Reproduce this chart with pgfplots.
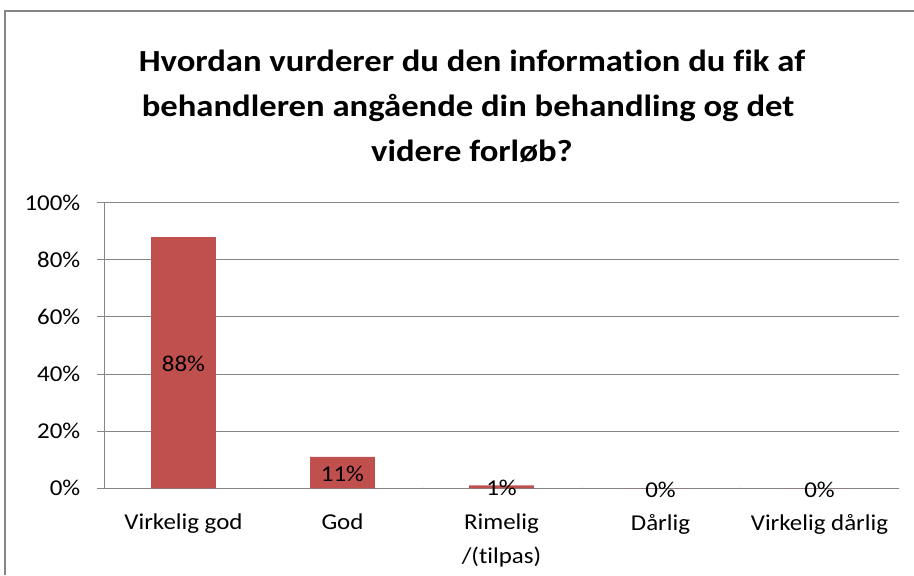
\documentclass[border=0pt]{standalone}
\usepackage{fontspec}
\setmainfont{Carlito}[FakeStretch=1.1,Ligatures=NoCommon]
\newfontfamily\titlefont{Carlito}[FakeStretch=1.13,Ligatures=NoCommon]
\usepackage{pgfplots}
\usepackage{pgfplotstable}
\pgfplotsset{compat=1.18}
\definecolor{BarRed}{HTML}{C0504D}
\definecolor{AxGray}{HTML}{868686}

\pgfplotstableread{
x y
0 88
1 11
2 1
3 0
4 0
}\ratings

\begin{document}
\begin{tikzpicture}
\useasboundingbox (0,0) rectangle (685.5pt,431.25pt);
\draw[AxGray,line width=0.9pt] (3.75pt,0) -- (3.75pt,423pt) -- (685.5pt,423pt);
\begin{axis}[at={(78pt,65pt)},anchor=south west,scale only axis,
width=596.25pt,height=214.2pt,ybar,bar width=48.4pt,
xmin=-0.5,xmax=4.5,ymin=0,ymax=100,
axis lines=left,axis line style={-,draw=AxGray,line width=0.75pt},
xtick={0,...,4},
xticklabels={Virkelig god,God,{Rimelig\\/(tilpas)},Dårlig,Virkelig dårlig},
xtick style={draw=none},
ytick={0,20,...,100},
yticklabels={0\%,20\%,40\%,60\%,80\%,100\%},
ytick style={draw=AxGray,line width=0.75pt},
tick align=outside,major tick length=5.25pt,
ymajorgrids,grid style={draw=AxGray,line width=0.75pt},
tick label style={font=\fontsize{17}{25}\selectfont},
xticklabel style={align=center,yshift=-10.5pt},
yticklabel style={xshift=-9pt},
/pgf/number format/assume math mode=true,
visualization depends on=y \as \rawy,
nodes near coords={\pgfmathprintnumber{\pgfplotspointmeta}\%},
every node near coord/.append style={font=\fontsize{17}{20}\selectfont,
  anchor=center,shift={(axis direction cs:0,-\rawy/2)},yshift=-1pt},
]
\addplot[fill=BarRed,draw=none] table[x=x,y=y]{\ratings};
\pgfplotsinvokeforeach{-0.5,0.5,1.5,2.5,3.5,4.5}{
  \draw[AxGray,line width=0.75pt] (axis cs:#1,0) -- ++(0,-6pt);}
\end{axis}
\begin{scope}[every node/.style={font=\titlefont\bfseries\fontsize{23}{30}\selectfont,anchor=base,inner sep=0pt}]
\node at (354pt,377.5pt) {Hvordan vurderer du den information du fik af};
\node at (351pt,343.7pt) {behandleren angående din behandling og det};
\node at (354pt,310.3pt) {videre forløb?};
\end{scope}
\end{tikzpicture}
\end{document}
